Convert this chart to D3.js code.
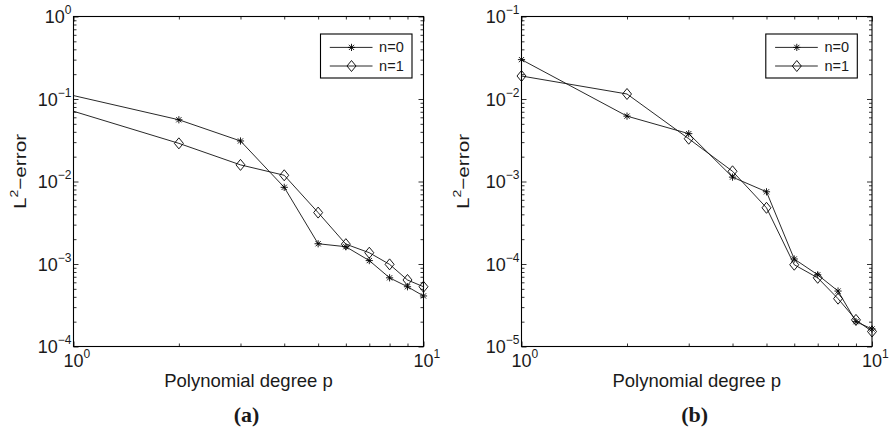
<!DOCTYPE html>
<html>
<head>
<meta charset="utf-8">
<script src="https://cdn.jsdelivr.net/npm/d3@7"></script>
<style>
  body { margin: 0; background: #fff; }
  text { font-family: "Liberation Sans", Arial, Helvetica, sans-serif; fill: #1a1a1a; }
</style>
</head>
<body>
<svg width="889" height="430"></svg>
<script>
// polynomial degree p
const degrees = [1, 2, 3, 4, 5, 6, 7, 8, 9, 10];

// panel (a)
const errA_n0 = [0.11, 0.056, 0.031, 0.0085, 0.00176, 0.00162, 0.0011, 0.00068, 0.00053, 0.00041];
const errA_n1 = [0.071, 0.029, 0.0159, 0.0119, 0.0042, 0.00174, 0.00137, 0.00099, 0.00064, 0.00053];

// panel (b)
const errB_n0 = [0.030, 0.0062, 0.0038, 0.00113, 0.00075, 0.000115, 0.000074, 0.000047, 0.00002, 0.0000163];
const errB_n1 = [0.019, 0.0115, 0.0033, 0.00133, 0.00048, 0.000098, 0.000068, 0.000038, 0.000021, 0.0000152];

const seriesNames = ["n=0", "n=1"];
const panelLabels = ["(a)", "(b)"];
const xLabel = "Polynomial degree p";
const yDomainA = [1e-4, 1];
const yDomainB = [1e-5, 1e-1];

const svg = d3.select("svg");

const starPath = r => {
  const d = r * 0.72;
  return `M${-r},0L${r},0M0,${-r}L0,${r}M${-d},${-d}L${d},${d}M${-d},${d}L${d},${-d}`;
};
const diamondPath = "M0,-5.5L4.5,0L0,5.5L-4.5,0Z";

function drawMarker(sel, kind) {
  sel.append("path").attr("d", kind === 0 ? starPath(3.6) : diamondPath)
    .attr("stroke", "#000").attr("stroke-width", 0.9).attr("fill", "none");
}

function drawPanel(p) {
  const top = 16.5, bottom = 346.5;
  const x = d3.scaleLog().domain([1, 10]).range([p.x0, p.x1]);
  const y = d3.scaleLog().domain(p.yDomain).range([bottom, top]);

  const lo = Math.round(Math.log10(p.yDomain[0])), hi = Math.round(Math.log10(p.yDomain[1]));
  const yMajor = d3.range(lo, hi + 1).map(e => Math.pow(10, e));
  const yMinor = [];
  for (let e = lo; e < hi; e++) for (let k = 2; k <= 9; k++) yMinor.push(k * Math.pow(10, e));
  const xMajor = [1, 10];
  const xMinor = d3.range(2, 10);

  const g = svg.append("g");

  // inward ticks on all four sides
  const axes = [
    [d3.axisBottom(x), `translate(0,${bottom})`, xMajor, xMinor],
    [d3.axisTop(x), `translate(0,${top})`, xMajor, xMinor],
    [d3.axisLeft(y), `translate(${p.x0},0)`, yMajor, yMinor],
    [d3.axisRight(y), `translate(${p.x1},0)`, yMajor, yMinor]
  ];
  axes.forEach(([ax, tr, maj, min]) => {
    [[maj, 5], [min, 3]].forEach(([vals, len]) => {
      const a = g.append("g").attr("transform", tr)
        .call(ax.tickValues(vals).tickSize(-len).tickFormat(""));
      a.select(".domain").remove();
      a.selectAll("line").attr("stroke", "#000").attr("stroke-width", 0.8);
    });
  });

  // frame
  g.append("rect")
    .attr("x", p.x0).attr("y", top)
    .attr("width", p.x1 - p.x0).attr("height", bottom - top)
    .attr("fill", "none").attr("stroke", "#000").attr("stroke-width", 1.1);

  // y tick labels
  yMajor.forEach(v => {
    const t = g.append("text")
      .attr("x", p.x0 - 2).attr("y", y(v) + 6.5)
      .attr("text-anchor", "end").attr("font-size", 18);
    t.append("tspan").text("10");
    t.append("tspan").attr("font-size", 12).attr("dy", -9)
      .text(d3.format("d")(Math.log10(v)).replace("-", "\u2212"));
  });

  // x tick labels
  xMajor.forEach(v => {
    const t = g.append("text")
      .attr("x", x(v) - 10).attr("y", bottom + 20.5)
      .attr("font-size", 18);
    t.append("tspan").text("10");
    t.append("tspan").attr("font-size", 12).attr("dy", -9).text(Math.round(Math.log10(v)));
  });

  // axis labels
  const cx = (p.x0 + p.x1) / 2;
  g.append("text")
    .attr("x", cx).attr("y", 386.5)
    .attr("text-anchor", "middle").attr("font-size", 18.5)
    .text(xLabel);

  const yl = g.append("text")
    .attr("transform", `translate(${p.yLabelX},171.5) rotate(-90) scale(1.22,1)`)
    .attr("text-anchor", "middle").attr("font-size", 17)
    .attr("dy", 6);
  yl.append("tspan").text("L");
  yl.append("tspan").attr("font-size", 11.5).attr("dy", -8).text("2");
  yl.append("tspan").attr("dy", 8).text("\u2212error");

  g.append("text")
    .attr("x", cx - 2).attr("y", 422)
    .attr("text-anchor", "middle")
    .style("font-family", "'Liberation Serif', 'Times New Roman', serif")
    .attr("font-weight", "bold").attr("font-size", 22)
    .text(p.label);

  // series
  const line = d3.line().x(d => x(d[0])).y(d => y(d[1]));
  p.series.forEach((vals, si) => {
    const pts = degrees.map((d, i) => [d, vals[i]]);
    g.append("path").datum(pts)
      .attr("d", line)
      .attr("fill", "none").attr("stroke", "#111").attr("stroke-width", 0.9);
    pts.slice(p.firstMarker ? 0 : 1).forEach(pt => {
      const m = g.append("g").attr("transform", `translate(${x(pt[0])},${y(pt[1])})`);
      drawMarker(m, si);
    });
  });

  // legend
  const lw = 91.5, lh = 44;
  const lx = p.x1 - p.legendRight - lw, ly = top + 17.5;
  const lg = g.append("g").attr("transform", `translate(${lx},${ly})`);
  lg.append("rect").attr("width", lw).attr("height", lh)
    .attr("fill", "#fff").attr("stroke", "#000").attr("stroke-width", 1.1);
  seriesNames.forEach((name, si) => {
    const ry = 13.4 + si * 18.6;
    lg.append("line").attr("x1", 9.3).attr("x2", 52).attr("y1", ry).attr("y2", ry)
      .attr("stroke", "#111").attr("stroke-width", 0.9);
    drawMarker(lg.append("g").attr("transform", `translate(31,${ry})`), si);
    lg.append("text").attr("x", 58.6).attr("y", ry + 5)
      .attr("font-size", 14.5).text(name);
  });
}

drawPanel({ x0: 73.5, x1: 423.5, yDomain: yDomainA, series: [errA_n0, errA_n1],
  label: panelLabels[0], yLabelX: 20, legendRight: 11.5, firstMarker: false });
drawPanel({ x0: 521.5, x1: 872, yDomain: yDomainB, series: [errB_n0, errB_n1],
  label: panelLabels[1], yLabelX: 463, legendRight: 14.7, firstMarker: true });
</script>
</body>
</html>
